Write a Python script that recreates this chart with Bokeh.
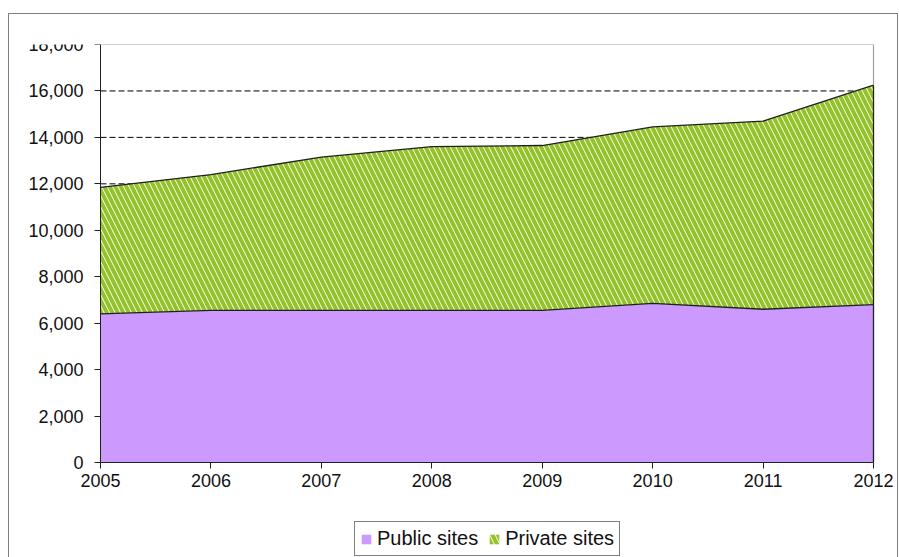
from bokeh.plotting import figure
from bokeh.models import Legend, LegendItem, FixedTicker, NumeralTickFormatter, Range1d
from bokeh.embed import file_html
from bokeh.resources import INLINE

years = [2005, 2006, 2007, 2008, 2009, 2010, 2011, 2012]
public_sites = [6400, 6550, 6550, 6550, 6550, 6850, 6600, 6800]
private_sites = [5450, 5850, 6600, 7050, 7100, 7600, 8100, 9450]
y_ticks = [0, 2000, 4000, 6000, 8000, 10000, 12000, 14000, 16000, 18000]

total = [a + b for a, b in zip(public_sites, private_sites)]
zeros = [0] * len(years)

FONT = "Liberation Sans"
Y_MAX = y_ticks[-1]
# the frame covers the whole chart box, so axes labels and legend stay inside it
PX_PER_YEAR = 773 / (years[-1] - years[0])
X_MIN = years[0] - 91 / PX_PER_YEAR
X_MAX = years[-1] + 24 / PX_PER_YEAR
Y_MIN = -Y_MAX * 95 / 418

p = figure(frame_width=888, frame_height=513,
           min_border_left=0, min_border_top=30, min_border_right=0, min_border_bottom=0,
           x_range=Range1d(X_MIN, X_MAX), y_range=Range1d(Y_MIN, Y_MAX),
           output_backend="svg", toolbar_location=None,
           background_fill_color="white", border_fill_color="white",
           outline_line_color=None)
p.margin = (13, 0, 0, 8)
p.styles = {"border": "1px solid #808080"}

# dashed horizontal gridlines, only across the plot area
grid_y = y_ticks[1:-1]
p.segment(x0=[years[0]] * len(grid_y), x1=[years[-1]] * len(grid_y), y0=grid_y, y1=grid_y,
          line_color="#000000", line_width=1, line_dash="6 3")

pub = p.varea(x=years, y1=zeros, y2=public_sites, fill_color="#CC99FF")
priv = p.varea(x=years, y1=public_sites, y2=total, fill_color="#FAFEF0",
               hatch_pattern="left_diagonal_line", hatch_color="#93C22A",
               hatch_scale=11, hatch_weight=4)
p.line(years, public_sites, line_color="#202020", line_width=1.3)
p.line(years, total, line_color="#202020", line_width=1.3)
p.line([years[-1], years[-1]], [0, total[-1]], line_color="#202020", line_width=1.3)
# plot-area border (top and right, gray)
p.line([years[0], years[-1]], [Y_MAX, Y_MAX], line_color="#A0A0A0", line_width=1.2)
p.line([years[-1], years[-1]], [total[-1], Y_MAX], line_color="#A0A0A0", line_width=1.2)

p.xaxis.ticker = FixedTicker(ticks=years)
p.xaxis.fixed_location = 0
p.xaxis.bounds = (years[0], years[-1])
p.yaxis.ticker = FixedTicker(ticks=y_ticks)
p.yaxis.fixed_location = years[0]
p.yaxis.bounds = (0, Y_MAX)
p.yaxis.formatter = NumeralTickFormatter(format="0,0")
for ax in (p.xaxis[0], p.yaxis[0]):
    ax.axis_line_color = "#202020"
    ax.major_tick_line_color = "#202020"
    ax.major_tick_out = 6
    ax.major_tick_in = 0
    ax.minor_tick_line_color = None
    ax.major_label_text_font = FONT
    ax.major_label_text_font_size = "18px"
    ax.major_label_text_color = "#111111"
p.xaxis.major_label_standoff = 5
p.yaxis.major_label_standoff = 11

p.xgrid.grid_line_color = None
p.ygrid.grid_line_color = None

legend = Legend(items=[LegendItem(label="Public sites", renderers=[pub]),
                       LegendItem(label="Private sites", renderers=[priv])],
                orientation="horizontal", location=(345, 1))
legend.label_text_font = FONT
legend.label_text_font_size = "20px"
legend.label_text_color = "#111111"
legend.glyph_width = 12
legend.glyph_height = 12
legend.label_standoff = 5
legend.spacing = 10
legend.padding = 5
legend.margin = 0
legend.border_line_color = "#000000"
legend.border_line_width = 1
legend.background_fill_color = "white"
p.add_layout(legend, "center")

open("out.html", "w").write(file_html(p, INLINE))
